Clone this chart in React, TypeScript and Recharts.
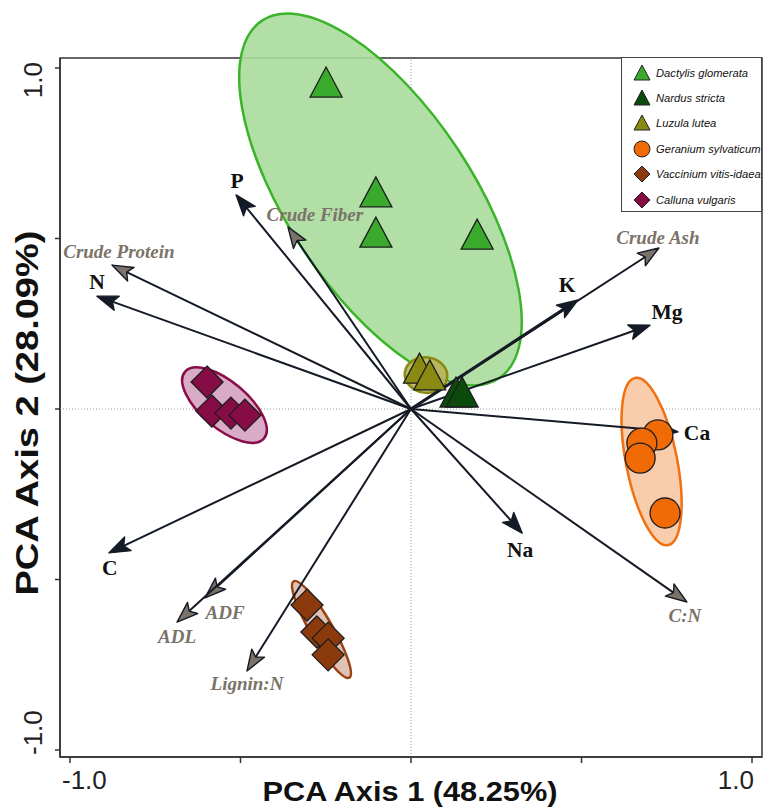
import React from 'react';
import { ScatterChart, Scatter, XAxis, YAxis, ReferenceLine, ReferenceArea, Legend } from 'recharts';

// ---------- data ----------
const speciesNames = [
  'Dactylis glomerata',
  'Nardus stricta',
  'Luzula lutea',
  'Geranium sylvaticum',
  'Vaccinium vitis-idaea',
  'Calluna vulgaris',
];

const dactylis = [
  { x: -0.249, y: 0.95 },
  { x: -0.103, y: 0.628 },
  { x: -0.103, y: 0.51 },
  { x: 0.194, y: 0.504 },
];
const nardus = [
  { x: 0.132, y: 0.041 },
  { x: 0.15, y: 0.041 },
];
const luzula = [
  { x: 0.025, y: 0.111 },
  { x: 0.055, y: 0.091 },
];
const geranium = [
  { x: 0.724, y: -0.076 },
  { x: 0.677, y: -0.1 },
  { x: 0.672, y: -0.144 },
  { x: 0.745, y: -0.305 },
];
const vaccinium = [
  { x: -0.305, y: -0.575 },
  { x: -0.276, y: -0.654 },
  { x: -0.243, y: -0.672 },
  { x: -0.243, y: -0.721 },
];
const calluna = [
  { x: -0.598, y: 0.079 },
  { x: -0.584, y: -0.006 },
  { x: -0.528, y: -0.012 },
  { x: -0.487, y: -0.018 },
];

// loading vectors (arrow tips)
const loadingNames = ['N', 'Crude Protein', 'P', 'Crude Fiber', 'Crude Ash', 'K', 'Mg', 'Ca', 'Na', 'C:N', 'C', 'ADF', 'ADL', 'Lignin:N'];
const loadingX = [-0.921, -0.877, -0.513, -0.361, 0.727, 0.49, 0.701, 0.783, 0.326, 0.809, -0.886, -0.604, -0.686, -0.481];
const loadingY = [0.331, 0.422, 0.628, 0.534, 0.472, 0.32, 0.246, -0.067, -0.364, -0.566, -0.422, -0.554, -0.625, -0.768];
const nutritionVars = ['Crude Protein', 'Crude Fiber', 'Crude Ash', 'C:N', 'ADF', 'ADL', 'Lignin:N'];

// ellipse major-axis end points (data units) and minor/major ratio
const ellipseNames = ['Dactylis glomerata', 'Luzula lutea', 'Geranium sylvaticum', 'Vaccinium vitis-idaea', 'Calluna vulgaris'];
const ellipseStart = [
  { x: -0.437, y: 1.139 },
  { x: -0.018, y: 0.108 },
  { x: 0.657, y: 0.091 },
  { x: -0.344, y: -0.505 },
  { x: -0.663, y: 0.109 },
];
const ellipseEnd = [
  { x: 0.258, y: 0.09 },
  { x: 0.106, y: 0.091 },
  { x: 0.754, y: -0.399 },
  { x: -0.181, y: -0.788 },
  { x: -0.431, y: -0.086 },
];
const ellipseRatio = [0.43, 0.83, 0.3, 0.2, 0.45];

const axisTicks = [-1, -0.5, 0, 0.5, 1];

// ---------- styles ----------
const X_DOMAIN: [number, number] = [-1.0293, 1.0293];
const Y_DOMAIN: [number, number] = [-1.0205, 1.0293];

const speciesStyle: Record<string, { fill: string; shape: string; ellFill: string; ellStroke: string }> = {
  'Dactylis glomerata': { fill: '#3aaa2c', shape: 'triangle', ellFill: '#a9dc9c', ellStroke: '#3bb42a' },
  'Nardus stricta': { fill: '#0b4a0b', shape: 'triangle', ellFill: '#0b4a0b', ellStroke: '#0b4a0b' },
  'Luzula lutea': { fill: '#8a8a12', shape: 'triangle', ellFill: '#b8b45a', ellStroke: '#8a8a12' },
  'Geranium sylvaticum': { fill: '#f06a05', shape: 'circle', ellFill: '#f8c6a2', ellStroke: '#f07012' },
  'Vaccinium vitis-idaea': { fill: '#8b3a0e', shape: 'diamond', ellFill: '#dcbcae', ellStroke: '#9a4212' },
  'Calluna vulgaris': { fill: '#860c46', shape: 'diamond', ellFill: '#d6a2c0', ellStroke: '#8a0c48' },
};

const labelOffsets: Record<string, [number, number]> = {
  N: [0, -14],
  'Crude Protein': [7, -14],
  P: [1, -14],
  'Crude Fiber': [27, -12],
  'Crude Ash': [-1, -11],
  K: [-11, -15],
  Mg: [17, -13],
  Ca: [19, 1],
  Na: [-2, 17],
  'C:N': [-2, 13],
  C: [1, 15],
  ADF: [20, 15],
  ADL: [0, 14],
  'Lignin:N': [0, 13],
};

const LINE_COLOR = '#141a26';
const GREY = '#7b7369';

function markerShape(kind: string, fill: string) {
  return (p: any) => {
    const { cx, cy } = p;
    if (cx == null || cy == null) return <g />;
    const st = { fill, stroke: '#1d1d1d', strokeWidth: 1.3 };
    if (kind === 'triangle') {
      return <polygon points={`${cx},${cy - 18} ${cx - 16},${cy + 12} ${cx + 16},${cy + 12}`} {...st} />;
    }
    if (kind === 'circle') {
      return <circle cx={cx} cy={cy} r={15} {...st} />;
    }
    return <polygon points={`${cx},${cy - 16} ${cx + 16},${cy} ${cx},${cy + 16} ${cx - 16},${cy}`} {...st} />;
  };
}

function ellipseShape(fill: string, stroke: string, ratio: number) {
  return (p: any) => {
    const { x1, y1, x2, y2 } = p;
    if (x1 == null) return <g />;
    const cx = (x1 + x2) / 2;
    const cy = (y1 + y2) / 2;
    const a = Math.hypot(x2 - x1, y2 - y1) / 2;
    const ang = (Math.atan2(y2 - y1, x2 - x1) * 180) / Math.PI;
    return (
      <ellipse
        cx={cx}
        cy={cy}
        rx={a}
        ry={a * ratio}
        transform={`rotate(${ang} ${cx} ${cy})`}
        fill={fill}
        fillOpacity={0.9}
        stroke={stroke}
        strokeWidth={2.5}
      />
    );
  };
}

function arrowShape(name: string) {
  const nutrition = nutritionVars.includes(name);
  const headFill = nutrition ? GREY : LINE_COLOR;
  const lw = name === 'K' ? 3.2 : 2;
  return (p: any) => {
    const { x1, y1, x2, y2 } = p;
    if (x1 == null) return <g />;
    const dx = x2 - x1;
    const dy = y2 - y1;
    const L = Math.hypot(dx, dy) || 1;
    const ux = dx / L;
    const uy = dy / L;
    const hl = 21;
    const hw = 7.5;
    const bx = x2 - ux * hl;
    const by = y2 - uy * hl;
    const nx = x2 - ux * hl * 0.78;
    const ny = y2 - uy * hl * 0.78;
    const px = -uy;
    const py = ux;
    const off = labelOffsets[name] || [0, 0];
    return (
      <g>
        <line x1={x1} y1={y1} x2={nx} y2={ny} stroke={LINE_COLOR} strokeWidth={lw} />
        <polygon
          points={`${x2},${y2} ${bx + px * hw},${by + py * hw} ${nx},${ny} ${bx - px * hw},${by - py * hw}`}
          fill={headFill}
          stroke={LINE_COLOR}
          strokeWidth={1.4}
          strokeLinejoin="round"
        />
        <text
          x={x2 + off[0]}
          y={y2 + off[1]}
          textAnchor="middle"
          dominantBaseline="central"
          fontFamily="'Liberation Serif', 'Times New Roman', serif"
          fontWeight="bold"
          fontStyle={nutrition ? 'italic' : 'normal'}
          fontSize={nutrition ? 19 : 21.5}
          fill={nutrition ? GREY : '#111'}
        >
          {name}
        </text>
      </g>
    );
  };
}

const XTick = (props: any) => {
  const { x, payload } = props;
  const v = payload?.value;
  const common = {
    y: 780,
    dominantBaseline: 'central' as const,
    fontFamily: "'Liberation Sans', Arial, sans-serif",
    fontSize: 26,
    fill: '#222',
  };
  if (v === -1) return <text x={x - 8} textAnchor="start" {...common}>-1.0</text>;
  if (v === 1) return <text x={x + 2} textAnchor="end" {...common}>1.0</text>;
  return <g />;
};

const YTick = (props: any) => {
  const { y, payload } = props;
  const v = payload?.value;
  const tx = 33;
  const common = {
    dominantBaseline: 'central' as const,
    fontFamily: "'Liberation Sans', Arial, sans-serif",
    fontSize: 26,
    fill: '#222',
  };
  if (v === 1)
    return (
      <text x={tx} y={y - 6} transform={`rotate(-90 ${tx} ${y - 6})`} textAnchor="end" {...common}>
        1.0
      </text>
    );
  if (v === -1)
    return (
      <text x={tx} y={y + 5} transform={`rotate(-90 ${tx} ${y + 5})`} textAnchor="start" {...common}>
        -1.0
      </text>
    );
  return <g />;
};

const LegendBox = () => (
  <div
    style={{
      width: 141,
      height: 155,
      boxSizing: 'border-box',
      border: '1px solid #444',
      background: '#fff',
      paddingTop: 2,
      fontFamily: "'Liberation Sans', Arial, sans-serif",
      fontStyle: 'italic',
      fontSize: 11.2,
      color: '#111',
    }}
  >
    {speciesNames.map((n) => {
      const s = speciesStyle[n];
      let sym: React.ReactNode;
      if (s.shape === 'triangle') sym = <polygon points="9,1 1,16 17,16" fill={s.fill} stroke="#222" strokeWidth={1} />;
      else if (s.shape === 'circle') sym = <circle cx={9} cy={9} r={8} fill={s.fill} stroke="#222" strokeWidth={1} />;
      else sym = <polygon points="9,1 17,9 9,17 1,9" fill={s.fill} stroke="#222" strokeWidth={1} />;
      return (
        <div key={n} style={{ height: 25.4, display: 'flex', alignItems: 'center' }}>
          <svg width={18} height={18} style={{ marginLeft: 11, marginRight: 5 }}>
            {sym}
          </svg>
          <span>{n}</span>
        </div>
      );
    })}
  </div>
);

const seriesData: Record<string, { x: number; y: number }[]> = {
  'Dactylis glomerata': dactylis,
  'Nardus stricta': nardus,
  'Luzula lutea': luzula,
  'Geranium sylvaticum': geranium,
  'Vaccinium vitis-idaea': vaccinium,
  'Calluna vulgaris': calluna,
};

export default function App() {
  return (
    <div style={{ position: 'absolute', left: 0, top: 0, width: 772, height: 810, background: '#fff' }}>
      <ScatterChart width={772} height={810} margin={{ top: 58, right: 10, bottom: 0, left: 0 }}>
        <XAxis
          type="number"
          dataKey="x"
          domain={X_DOMAIN}
          ticks={axisTicks}
          allowDataOverflow
          height={53}
          tick={<XTick />}
          tickLine={{ stroke: '#333', strokeWidth: 1.5 }}
          tickSize={6}
          axisLine={{ stroke: '#333', strokeWidth: 1.5 }}
          label={{
            content: () => (
              <text
                x={410}
                y={801}
                textAnchor="middle"
                fontFamily="'Liberation Sans', Arial, sans-serif"
                fontWeight="bold"
                fontSize={28}
                textLength={295}
                lengthAdjust="spacingAndGlyphs"
                fill="#111"
              >
                PCA Axis 1 (48.25%)
              </text>
            ),
          }}
        />
        <YAxis
          type="number"
          dataKey="y"
          domain={Y_DOMAIN}
          ticks={axisTicks}
          allowDataOverflow
          width={60}
          tick={<YTick />}
          tickLine={{ stroke: '#333', strokeWidth: 1.5 }}
          tickSize={5}
          axisLine={{ stroke: '#333', strokeWidth: 1.5 }}
          label={{
            content: () => (
              <text
                x={38}
                y={413}
                transform="rotate(-90 38 413)"
                textAnchor="middle"
                fontFamily="'Liberation Sans', Arial, sans-serif"
                fontWeight="bold"
                fontSize={31}
                textLength={365}
                lengthAdjust="spacingAndGlyphs"
                fill="#111"
              >
                PCA Axis 2 (28.09%)
              </text>
            ),
          }}
        />
        <ReferenceArea
          x1={X_DOMAIN[0]}
          x2={X_DOMAIN[1]}
          y1={Y_DOMAIN[0]}
          y2={Y_DOMAIN[1]}
          fill="none"
          fillOpacity={0}
          stroke="#333"
          strokeWidth={1.5}
          ifOverflow="visible"
        />
        <ReferenceLine x={0} stroke="#9a9a9a" strokeDasharray="1 2" strokeWidth={1} />
        <ReferenceLine y={0} stroke="#9a9a9a" strokeDasharray="1 2" strokeWidth={1} />

        {ellipseNames.map((n, i) => (
          <ReferenceLine
            key={'ell-' + n}
            segment={[ellipseStart[i], ellipseEnd[i]]}
            ifOverflow="visible"
            shape={ellipseShape(speciesStyle[n].ellFill, speciesStyle[n].ellStroke, ellipseRatio[i])}
          />
        ))}

        {loadingNames.map((n, i) => (
          <ReferenceLine
            key={'arr-' + n}
            segment={[
              { x: 0, y: 0 },
              { x: loadingX[i], y: loadingY[i] },
            ]}
            ifOverflow="visible"
            shape={arrowShape(n)}
          />
        ))}

        {speciesNames.map((n) => (
          <Scatter
            key={n}
            name={n}
            data={seriesData[n]}
            fill={speciesStyle[n].fill}
            isAnimationActive={false}
            shape={markerShape(speciesStyle[n].shape, speciesStyle[n].fill)}
          />
        ))}

        <Legend
          layout="vertical"
          align="center"
          verticalAlign="middle"
          wrapperStyle={{ position: 'absolute', top: 57, left: 621, width: 141, height: 155 }}
          content={() => <LegendBox />}
        />
      </ScatterChart>
    </div>
  );
}
